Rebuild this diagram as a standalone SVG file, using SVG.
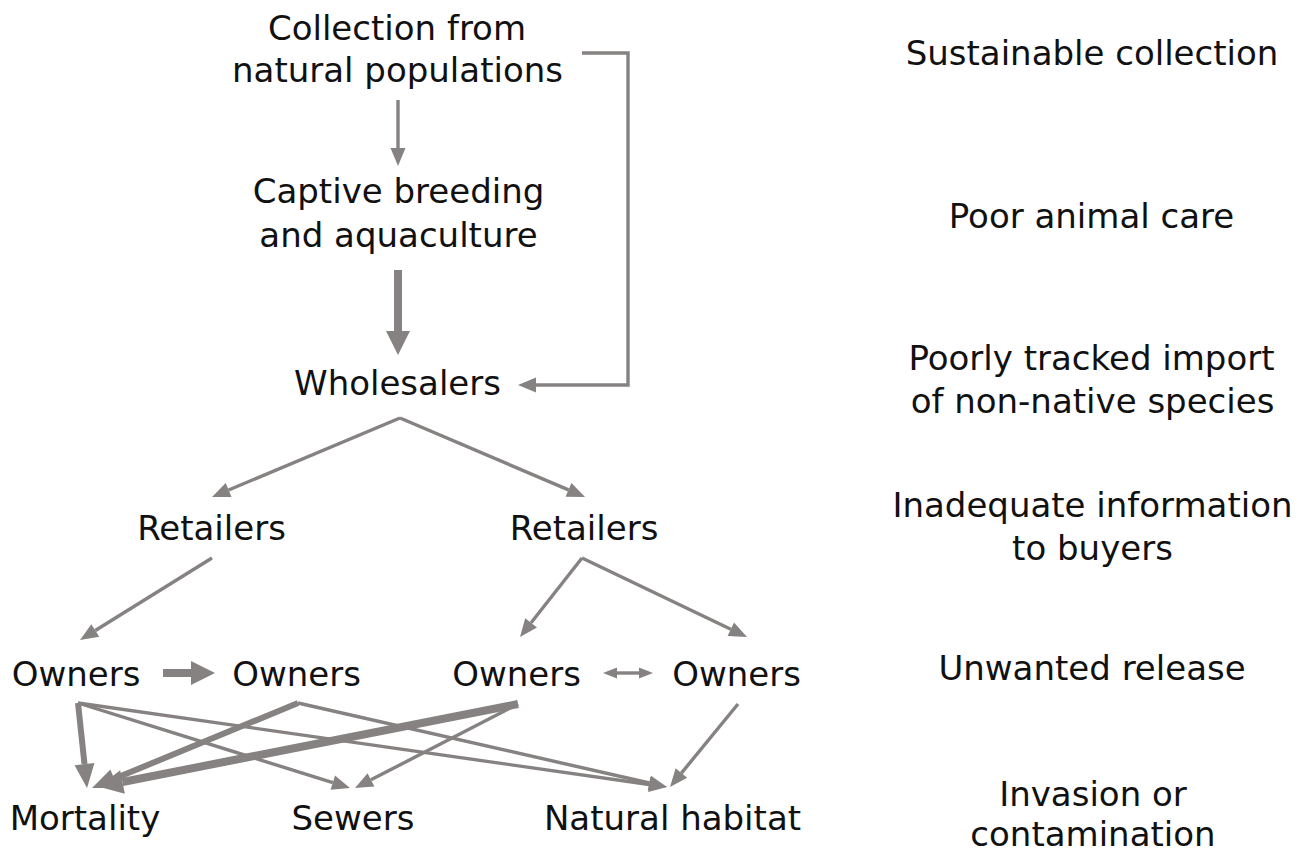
<svg xmlns="http://www.w3.org/2000/svg" width="1310" height="853" viewBox="0 0 1310 853">
<style>
text{font-family:"DejaVu Sans","Liberation Sans",sans-serif;font-size:34px;fill:#111;text-anchor:middle}
.c{fill:none;stroke:#858281;stroke-linecap:butt;stroke-linejoin:miter}
.t{stroke-width:3.4}
.m{stroke-width:6}
.k{stroke-width:8}
</style>
<defs>
<marker id="a-thin" markerUnits="userSpaceOnUse" markerWidth="18" markerHeight="15" refX="0" refY="7.5" orient="auto" overflow="visible"><path d="M0,0 L18,7.5 L0,15 z" fill="#858281"/></marker>
<marker id="a-small" markerUnits="userSpaceOnUse" markerWidth="14" markerHeight="11" refX="0" refY="5.5" orient="auto-start-reverse" overflow="visible"><path d="M0,0 L14,5.5 L0,11 z" fill="#858281"/></marker>
<marker id="a-med" markerUnits="userSpaceOnUse" markerWidth="24" markerHeight="20" refX="0" refY="10" orient="auto" overflow="visible"><path d="M0,0 L24,10 L0,20 z" fill="#858281"/></marker>
<marker id="a-big" markerUnits="userSpaceOnUse" markerWidth="24" markerHeight="24" refX="0" refY="12" orient="auto" overflow="visible"><path d="M0,0 L24,12 L0,24 z" fill="#858281"/></marker>
</defs>
<g id="connectors">
<line class="c t" x1="398" y1="100" x2="398" y2="148" marker-end="url(#a-thin)"/>
<line class="c k" x1="398" y1="270" x2="398" y2="331" marker-end="url(#a-big)"/>
<polyline class="c t" points="582,53 628,53 628,385 536,385" marker-end="url(#a-thin)"/>
<line class="c t" x1="400" y1="418" x2="228.6" y2="490" marker-end="url(#a-thin)"/>
<line class="c t" x1="400" y1="418" x2="568.5" y2="489.9" marker-end="url(#a-thin)"/>
<line class="c t" x1="212" y1="558" x2="95.3" y2="630.5" marker-end="url(#a-thin)"/>
<line class="c t" x1="582" y1="558" x2="531.1" y2="622.8" marker-end="url(#a-thin)"/>
<line class="c t" x1="582" y1="558" x2="730.8" y2="629.2" marker-end="url(#a-thin)"/>
<line class="c k" x1="163" y1="673" x2="191" y2="673" marker-end="url(#a-big)"/>
<line class="c t" x1="617" y1="673" x2="639" y2="673" marker-start="url(#a-small)" marker-end="url(#a-small)"/>
<line class="c m" x1="78" y1="703" x2="84.5" y2="764.1" marker-end="url(#a-med)"/>
<line class="c t" x1="78" y1="703" x2="332.8" y2="782.6" marker-end="url(#a-thin)"/>
<line class="c t" x1="78" y1="703" x2="649.2" y2="784.5" marker-end="url(#a-thin)"/>
<line class="c m" x1="298" y1="703" x2="114.2" y2="778.8" marker-end="url(#a-med)"/>
<line class="c t" x1="298" y1="703" x2="649.4" y2="783" marker-end="url(#a-thin)"/>
<line class="c k" x1="518" y1="704" x2="122.5" y2="782" marker-end="url(#a-big)"/>
<line class="c t" x1="518" y1="704" x2="371" y2="779.8" marker-end="url(#a-thin)"/>
<line class="c t" x1="738" y1="704" x2="681.4" y2="773.1" marker-end="url(#a-thin)"/>
</g>
<g id="collection"><text x="397" y="40">Collection from</text><text x="397.5" y="82">natural populations</text></g>
<g id="captive"><text x="398.5" y="203">Captive breeding</text><text x="398.5" y="247">and aquaculture</text></g>
<g id="wholesalers"><text x="397.5" y="395">Wholesalers</text></g>
<g id="retailers1"><text x="211.5" y="540">Retailers</text></g>
<g id="retailers2"><text x="584" y="540">Retailers</text></g>
<g id="owners1"><text x="76" y="686">Owners</text></g>
<g id="owners2"><text x="296.5" y="686">Owners</text></g>
<g id="owners3"><text x="516.5" y="686">Owners</text></g>
<g id="owners4"><text x="736.5" y="686">Owners</text></g>
<g id="mortality"><text x="85" y="830">Mortality</text></g>
<g id="sewers"><text x="353" y="830">Sewers</text></g>
<g id="habitat"><text x="672.5" y="830">Natural habitat</text></g>
<g id="issue1"><text x="1092" y="65">Sustainable collection</text></g>
<g id="issue2"><text x="1091.5" y="228">Poor animal care</text></g>
<g id="issue3"><text x="1091.5" y="370">Poorly tracked import</text><text x="1092.5" y="413">of non-native species</text></g>
<g id="issue4"><text x="1092.5" y="517">Inadequate information</text><text x="1092.5" y="560">to buyers</text></g>
<g id="issue5"><text x="1092" y="680">Unwanted release</text></g>
<g id="issue6"><text x="1093" y="806">Invasion or</text><text x="1093" y="846">contamination</text></g>
</svg>
